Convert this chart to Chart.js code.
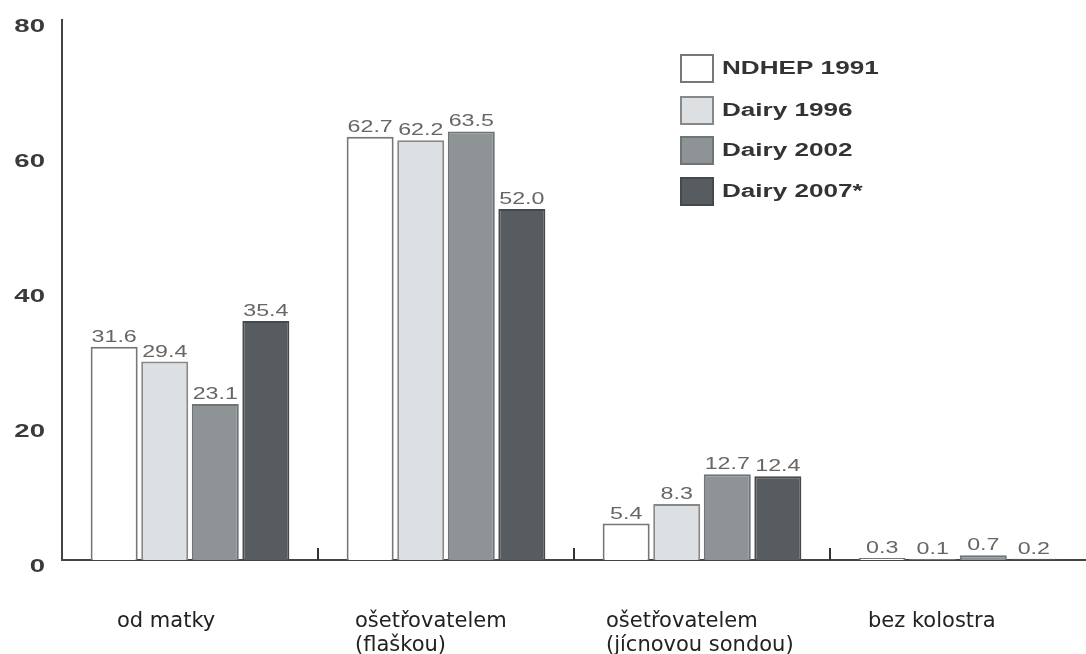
<!DOCTYPE html>
<html>
<head>
<meta charset="utf-8">
<script src="https://cdn.jsdelivr.net/npm/chart.js@4.4.1/dist/chart.umd.min.js"></script>
<style>
  body { margin: 0; background: #fff; }
  #wrap { width: 1086px; height: 654px; position: relative; }
</style>
</head>
<body>
<div id="wrap"><canvas id="colostrum"></canvas></div>
<script>
// categories and values
var categories = [['od matky'], ['ošetřovatelem', '(flaškou)'], ['ošetřovatelem', '(jícnovou sondou)'], ['bez kolostra']];
var seriesNames = ['NDHEP 1991', 'Dairy 1996', 'Dairy 2002', 'Dairy 2007*'];
var ndhep1991 = [31.6, 62.7, 5.4, 0.3];
var dairy1996 = [29.4, 62.2, 8.3, 0.1];
var dairy2002 = [23.1, 63.5, 12.7, 0.7];
var dairy2007 = [35.4, 52.0, 12.4, 0.2];
var yTicks = [0, 20, 40, 60, 80];

var fills = ['#ffffff', '#dde0e3', '#8e9396', '#575c60'];
var borders = ['#777777', '#888888', '#6f7477', '#45494c'];
var labelShift = [-73, -91, -96, -90];   // left edge of each category label vs. group centre
var STRETCH = 1.45;                       // the raster text is wide

function wideText(ctx, txt, x, y, align) {
  ctx.save();
  ctx.translate(x, y);
  ctx.scale(STRETCH, 1);
  ctx.textAlign = align;
  ctx.fillText(txt, 0, 0);
  ctx.restore();
}

var extras = {
  id: 'extras',
  afterDraw: function(chart) {
    var ctx = chart.ctx;
    var xs = chart.scales.x, ys = chart.scales.y;
    var area = chart.chartArea;

    // value labels above the bars
    ctx.save();
    ctx.font = '16px "Liberation Sans", Arial, sans-serif';
    ctx.fillStyle = '#666';
    ctx.textBaseline = 'alphabetic';
    chart.data.datasets.forEach(function(ds, di) {
      chart.getDatasetMeta(di).data.forEach(function(bar, i) {
        wideText(ctx, ds.data[i].toFixed(1), bar.x, bar.y - 5, 'center');
      });
    });
    ctx.restore();

    // small marks between the groups
    ctx.save();
    ctx.strokeStyle = '#333';
    ctx.lineWidth = 2;
    for (var i = 0; i < categories.length - 1; i++) {
      var mx = (xs.getPixelForValue(i) + xs.getPixelForValue(i + 1)) / 2;
      ctx.beginPath();
      ctx.moveTo(mx, area.bottom - 12);
      ctx.lineTo(mx, area.bottom);
      ctx.stroke();
    }
    ctx.restore();

    // y tick labels
    ctx.save();
    ctx.font = 'bold 19px "Liberation Sans", Arial, sans-serif';
    ctx.fillStyle = '#3a3a3a';
    ctx.textBaseline = 'middle';
    yTicks.forEach(function(t) {
      wideText(ctx, String(t), 45, ys.getPixelForValue(t) + 7, 'right');
    });
    ctx.restore();

    // legend
    ctx.save();
    ctx.font = 'bold 18px "Liberation Sans", Arial, sans-serif';
    ctx.textBaseline = 'middle';
    var ly = [55, 97, 137, 178];
    chart.data.datasets.forEach(function(ds, di) {
      ctx.fillStyle = ds.backgroundColor;
      ctx.fillRect(681, ly[di], 32, 27);
      ctx.strokeStyle = ds.borderColor;
      ctx.lineWidth = 2;
      ctx.strokeRect(681, ly[di], 32, 27);
      ctx.fillStyle = '#333';
      wideText(ctx, ds.label, 722, ly[di] + 14, 'left');
    });
    ctx.restore();

    // category labels under the axis
    ctx.save();
    ctx.font = '21px "DejaVu Sans", Verdana, sans-serif';
    ctx.fillStyle = '#222';
    ctx.textAlign = 'left';
    ctx.textBaseline = 'alphabetic';
    categories.forEach(function(lines, i) {
      var lx = xs.getPixelForValue(i) + labelShift[i];
      lines.forEach(function(line, k) {
        ctx.fillText(line, lx, 627 + k * 24);
      });
    });
    ctx.restore();
  }
};

var seriesData = [ndhep1991, dairy1996, dairy2002, dairy2007];
var datasets = seriesNames.map(function(name, i) {
  return {
    label: name,
    data: seriesData[i],
    backgroundColor: fills[i],
    borderColor: borders[i],
    borderWidth: 2,
    barPercentage: 0.93,
    categoryPercentage: 0.79
  };
});

var ctx = document.getElementById('colostrum');
var chart = new Chart(ctx, {
  type: 'bar',
  data: { labels: categories, datasets: datasets },
  options: {
    responsive: true,
    maintainAspectRatio: false,
    animation: false,
    layout: { padding: { top: 20, left: 0, right: 0, bottom: 0 } },
    plugins: { legend: { display: false }, tooltip: { enabled: false } },
    scales: {
      x: {
        grid: { display: false, drawTicks: false },
        ticks: { display: false },
        border: { display: true, color: '#444', width: 2 },
        afterFit: function(s) { s.height = 94; }
      },
      y: {
        min: 0,
        max: 80,
        grid: { display: false, drawTicks: false },
        ticks: { display: false, stepSize: 20 },
        border: { display: true, color: '#444', width: 2 },
        afterFit: function(s) { s.width = 62; }
      }
    }
  },
  plugins: [extras]
});
</script>
</body>
</html>
